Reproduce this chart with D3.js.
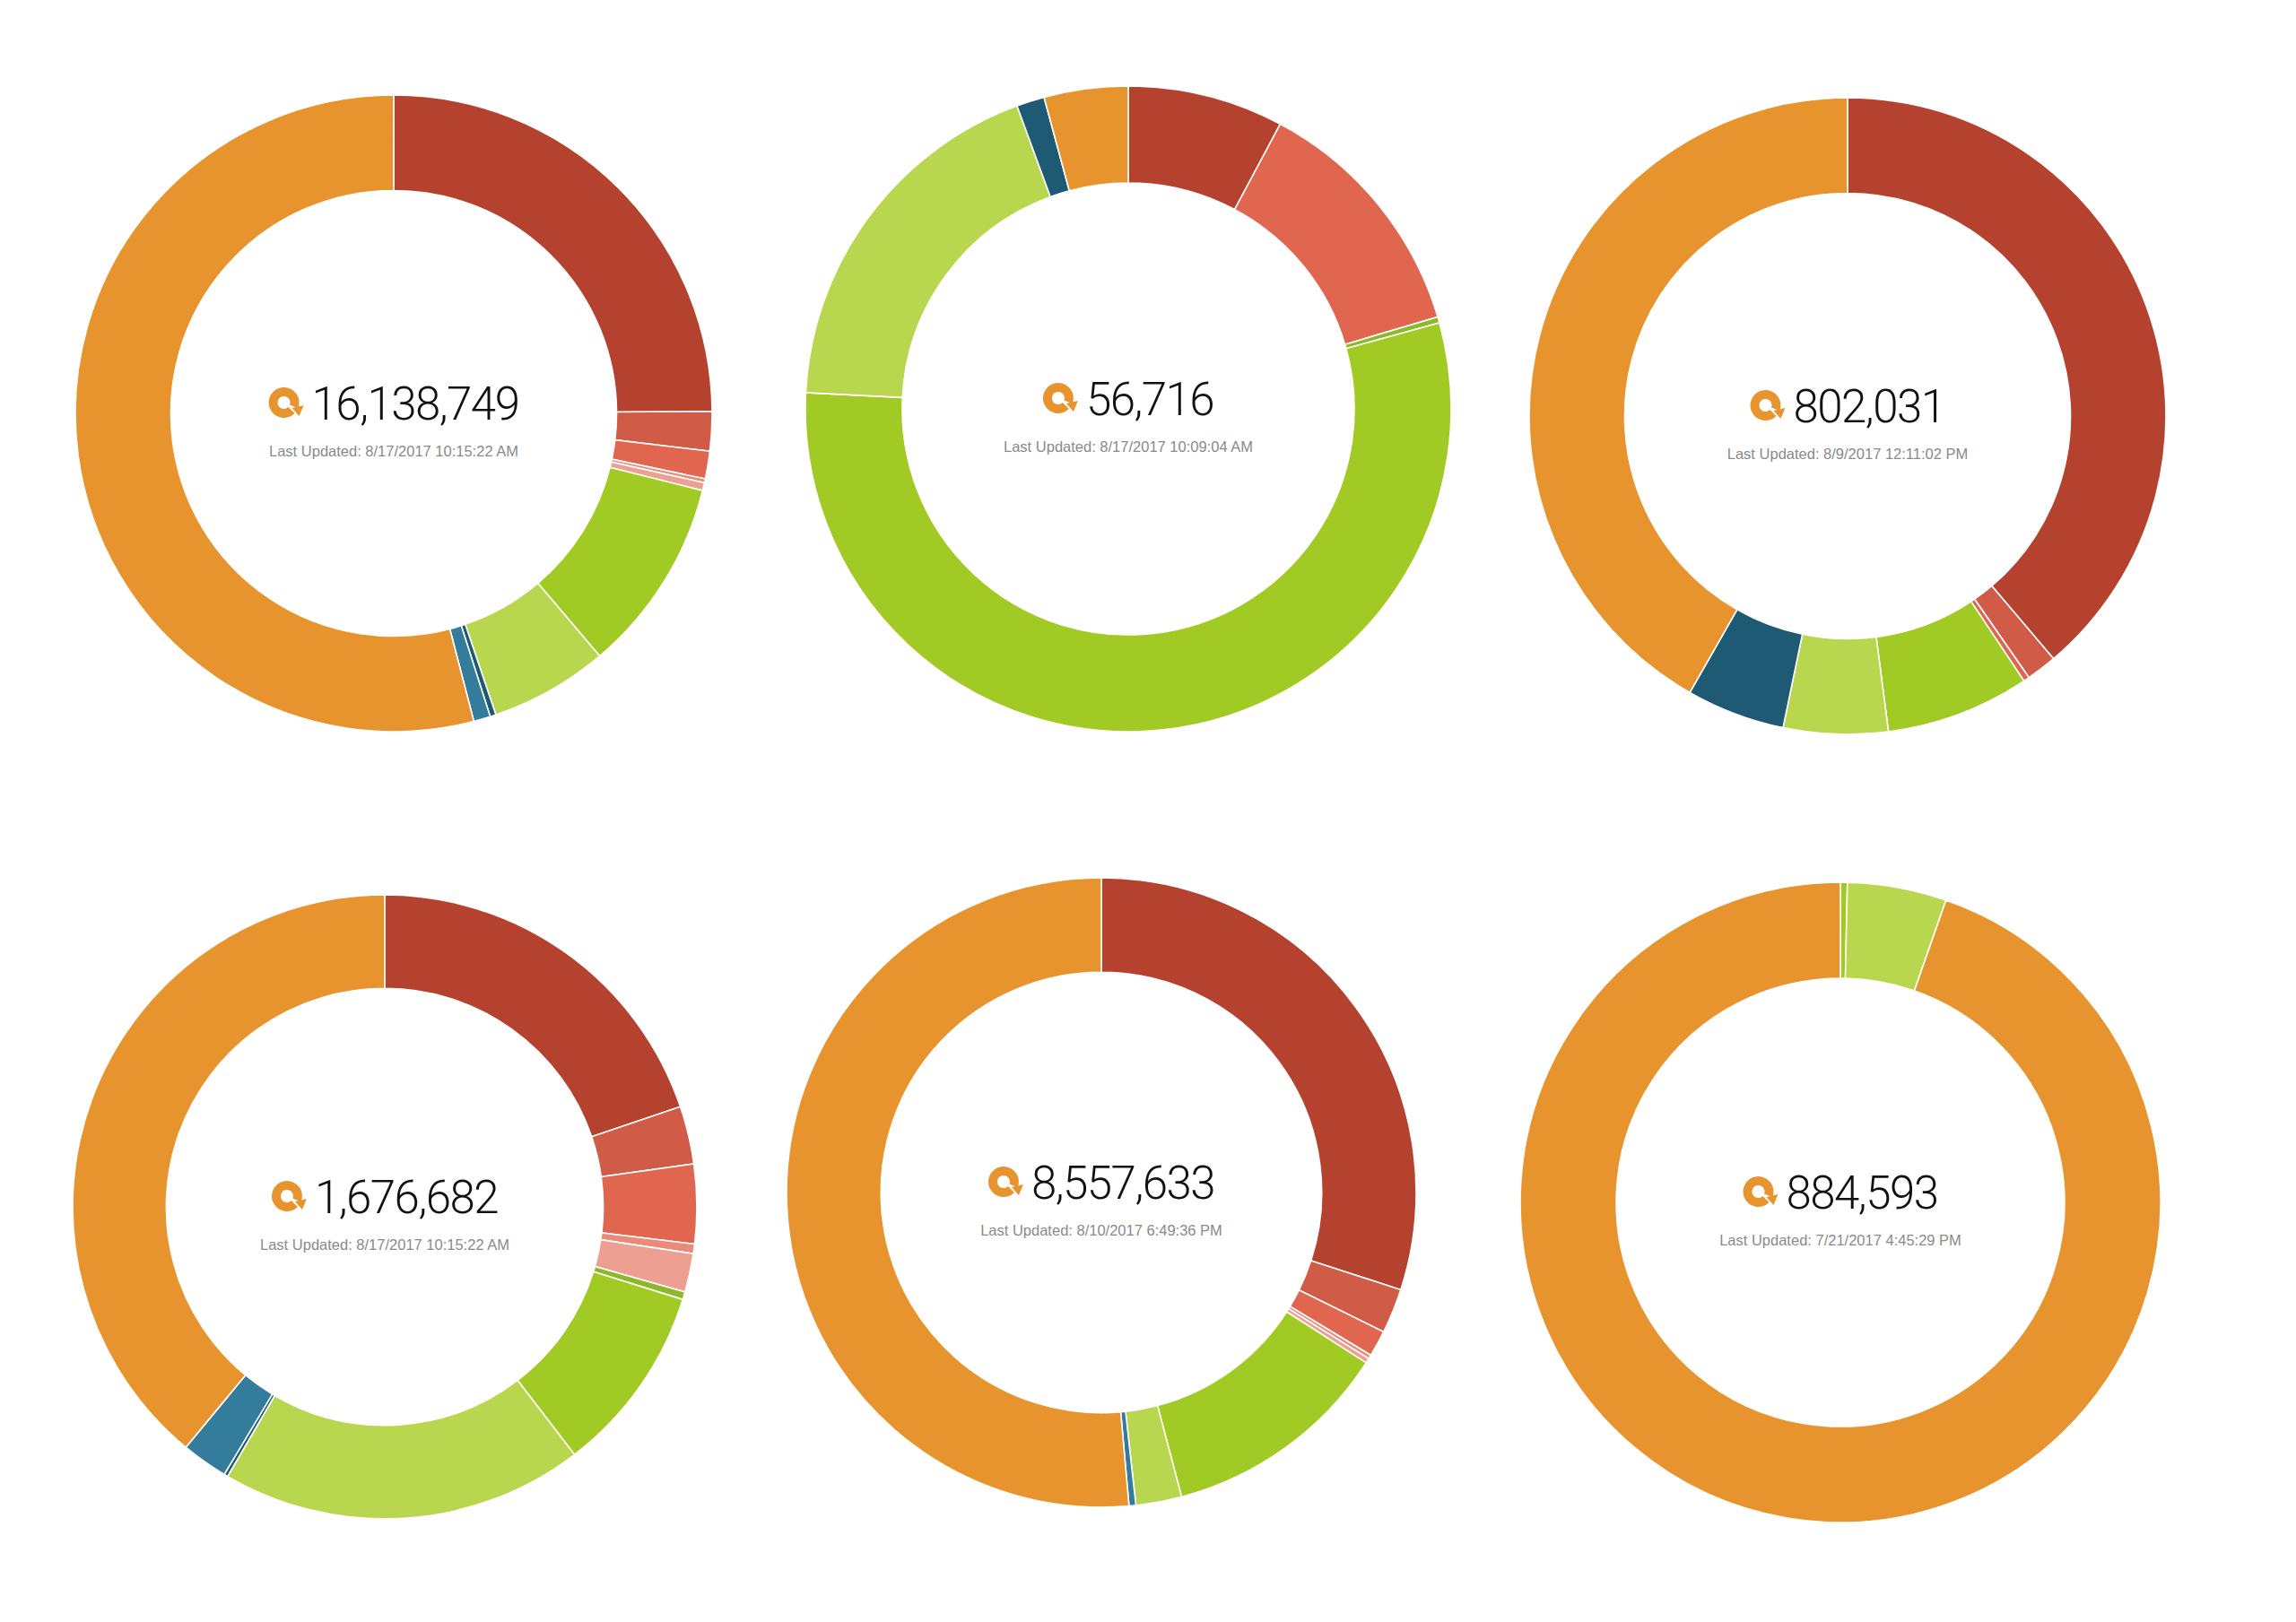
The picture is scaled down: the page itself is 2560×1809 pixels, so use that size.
<!DOCTYPE html>
<html>
<head>
<meta charset="utf-8">
<script src="https://cdn.jsdelivr.net/npm/d3@7"></script>
<style>
  body { margin: 0; background: #fff; }
</style>
</head>
<body>
<div id="chart"></div>
<script>
// segment categories, in clockwise order from 12 o'clock
const categories = ["s1", "s2", "s3", "s4", "s5", "s6", "s7", "s8", "s9", "s10", "s11"];
const colors = ["#b4422e", "#d05b46", "#e0664f", "#e98a7a", "#eda091", "#8cb82a",
                "#a1ca24", "#b8d64e", "#1f5a74", "#347c9b", "#e7942e"];

// share of each category (percent), one array per donut
const shares1 = [24.9, 2.0, 1.4, 0.2, 0.4, 0, 9.9, 6.0, 0.3, 0.85, 54.05];
const shares2 = [7.8, 0, 12.6, 0, 0, 0.3, 55.1, 18.6, 1.4, 0, 4.2];
const shares3 = [38.8, 1.55, 0.3, 0, 0, 0, 7.3, 5.3, 5.0, 0, 41.75];
const shares4 = [19.8, 3.0, 4.1, 0.5, 2.0, 0.4, 9.8, 18.8, 0.2, 2.4, 39.0];
const shares5 = [30.0, 2.3, 1.35, 0.2, 0.25, 0, 11.8, 2.35, 0, 0.35, 51.4];
const shares6 = [0, 0, 0, 0, 0, 0, 0.35, 5.0, 0, 0, 94.65];

const totals = ["16,138,749", "56,716", "802,031", "1,676,682", "8,557,633", "884,593"];
const updated = [
  "Last Updated: 8/17/2017 10:15:22 AM",
  "Last Updated: 8/17/2017 10:09:04 AM",
  "Last Updated: 8/9/2017 12:11:02 PM",
  "Last Updated: 8/17/2017 10:15:22 AM",
  "Last Updated: 8/10/2017 6:49:36 PM",
  "Last Updated: 7/21/2017 4:45:29 PM"
];

const allShares = [shares1, shares2, shares3, shares4, shares5, shares6];

let width = 2560,
    height = 1809;

// layout of the six donuts
const centers = [[439, 461], [1258, 456], [2060, 464], [429, 1346], [1228, 1330], [2052, 1341]];
const radii = [355, 360, 355, 348, 351, 357];

const color = d3.scaleOrdinal().domain(categories).range(colors);

const svg = d3.select("#chart")
    .append("svg")
    .attr("width", width)
    .attr("height", height)
    .style("background", "#fff");

const pie = d3.pie()
    .sort(null)
    .value(d => d.value);

function drawIcon(sel) {
    // refresh-style ring with a small arrowhead at the notch
    sel.append("path")
        .attr("d", d3.arc().innerRadius(7).outerRadius(17)
            .startAngle(Math.PI * 0.75).endAngle(Math.PI * 2.62)())
        .attr("fill", "#e7942e");
    sel.append("path")
        .attr("d", "M9,6 L22,3 L17,15 Z")
        .attr("fill", "#e7942e");
}

function drawDonut(i) {
    const data = categories
        .map((c, k) => ({ cat: c, value: allShares[i][k] }))
        .filter(d => d.value > 0);
    const r = radii[i];
    const arc = d3.arc().innerRadius(r * 0.7).outerRadius(r);

    const g = svg.append("g")
        .attr("transform", `translate(${centers[i][0]},${centers[i][1]})`);

    g.selectAll("path")
        .data(pie(data))
        .join("path")
        .attr("d", arc)
        .attr("fill", d => color(d.data.cat))
        .attr("stroke", "#fff")
        .attr("stroke-width", 1.6);

    // total with refresh icon
    const label = g.append("g");
    const num = label.append("text")
        .attr("y", 7)
        .attr("font-family", "Roboto")
        .attr("font-weight", 300)
        .attr("font-size", 51)
        .attr("letter-spacing", -1.5)
        .attr("fill", "#111")
        .text(totals[i]);
    const w = num.node().getComputedTextLength();
    const iconW = 38, gap = 10;
    const left = -(iconW + gap + w) / 2;
    num.attr("x", left + iconW + gap);

    label.append("g")
        .attr("transform", `translate(${left + 17},${-12})`)
        .call(drawIcon);

    g.append("text")
        .attr("y", 48)
        .attr("text-anchor", "middle")
        .attr("font-family", "Liberation Sans, Arial, sans-serif")
        .attr("font-size", 16.5)
        .attr("fill", "#8a8a8a")
        .text(updated[i]);
}

for (let i = 0; i < allShares.length; i++) drawDonut(i);
</script>
</body>
</html>
